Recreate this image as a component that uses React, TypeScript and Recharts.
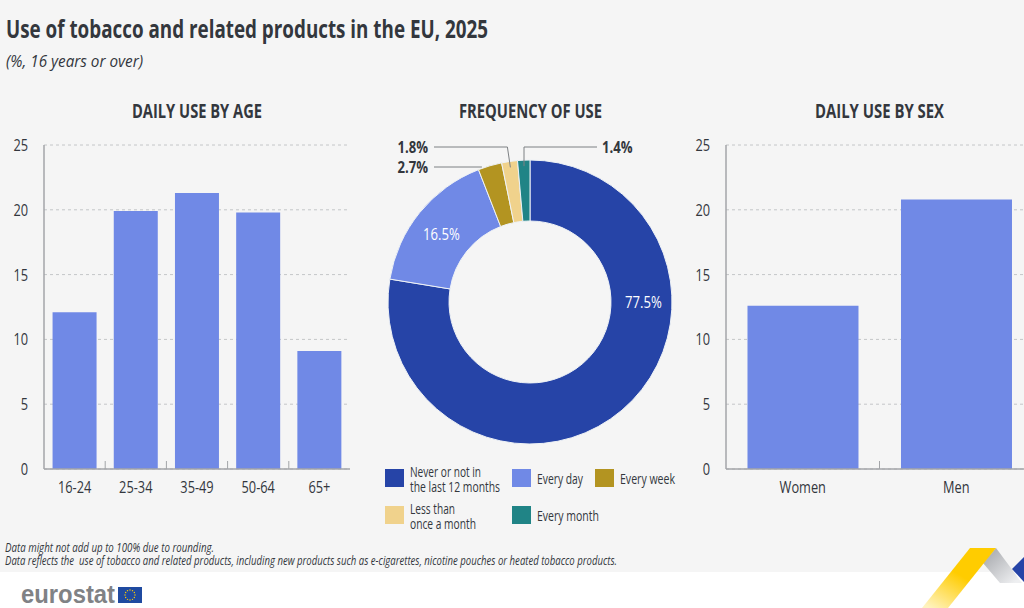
import React from "react";
import { BarChart, Bar, XAxis, YAxis, CartesianGrid, PieChart, Pie, Cell } from "recharts";

const ageCategories = ["16-24", "25-34", "35-49", "50-64", "65+"];
const ageValues = [12.1, 19.9, 21.3, 19.8, 9.1];
const sexCategories = ["Women", "Men"];
const sexValues = [12.6, 20.8];
const yTicks = [0, 5, 10, 15, 20, 25];
const freqNames = ["Never or not in the last 12 months", "Every day", "Every week", "Less than once a month", "Every month"];
const freqValues = [77.5, 16.5, 2.7, 1.8, 1.4];
const freqLabels = ["77.5%", "16.5%", "2.7%", "1.8%", "1.4%"];
const freqColors = ["#2644A7", "#7089E6", "#B39421", "#F0D28C", "#208486"];
const footnotes = [
  "Data might not add up to 100% due to rounding.",
  "Data reflects the  use of tobacco and related products, including new products such as e-cigarettes, nicotine pouches or heated tobacco products.",
];

const ageData = ageCategories.map((c, i) => ({ c, v: ageValues[i] }));
const sexData = sexCategories.map((c, i) => ({ c, v: sexValues[i] }));
const freqData = freqNames.map((name, i) => ({ name, value: freqValues[i] }));

const FONT = "'Open Sans', sans-serif";
const INK = "#33373d";
const BAR = "#7089E6";
const AXIS = "#a3a5a8";
const GRID = "#c4c6c8";
const PIE_CX = 200;

type TP = { x: number; y: number; w?: number; size: number; bold?: boolean; italic?: boolean; fill?: string; children: string };
const T = ({ x, y, w, size, bold, italic, fill = INK, children }: TP) => (
  <text
    x={x}
    y={y}
    textLength={w}
    lengthAdjust={w ? "spacingAndGlyphs" : undefined}
    fontFamily={FONT}
    fontSize={size}
    fontWeight={bold ? 700 : 400}
    fontStyle={italic ? "italic" : "normal"}
    fill={fill}
    xmlSpace="preserve"
  >
    {children}
  </text>
);

const AxisTick = (props: any) => {
  const { x, y, payload } = props;
  return (
    <text
      transform={`translate(${x - 8},${y + 6}) scale(0.8,1)`}
      textAnchor="end"
      fontFamily={FONT}
      fontSize={16}
      fill={INK}
    >
      {payload.value}
    </text>
  );
};

const XTick = (props: any) => {
  const { x, y, payload, band, count, index } = props;
  const axisY = y - 8;
  return (
    <g>
      {index < count - 1 && (
        <line x1={x + band / 2} x2={x + band / 2} y1={axisY} y2={axisY - 8} stroke={AXIS} strokeWidth={1} />
      )}
      <text
        transform={`translate(${x},${axisY + 24}) scale(0.8,1)`}
        textAnchor="middle"
        fontFamily={FONT}
        fontSize={16}
        fill={INK}
      >
        {payload.value}
      </text>
    </g>
  );
};

const RAD = Math.PI / 180;
const leaderText: Record<number, { dx: number; ty: number; bend: boolean; side: number }> = {
  2: { dx: -102, ty: 167, bend: false, side: -1 },
  3: { dx: -102, ty: 147, bend: true, side: -1 },
  4: { dx: 72, ty: 147, bend: true, side: 1 },
};

const PieLabel = (props: any) => {
  const { cx, cy, midAngle, innerRadius, outerRadius, index } = props;
  const mid = (innerRadius + outerRadius) / 2;
  if (index < 2) {
    const a = index === 0 ? 0 : midAngle;
    const x = cx + mid * Math.cos(a * RAD) + (index === 0 ? 2 : -2);
    const y = cy - mid * Math.sin(a * RAD);
    return (
      <text
        transform={`translate(${x},${y + (index === 0 ? 6 : 8)}) scale(0.82,1)`}
        textAnchor="middle"
        fontFamily={FONT}
        fontSize={16}
        fill="#ffffff"
      >
        {freqLabels[index]}
      </text>
    );
  }
  const l = leaderText[index];
  const tx = cx + l.dx;
  const r = index === 2 ? outerRadius : outerRadius - 6;
  const px = cx + r * Math.cos(midAngle * RAD);
  const py = cy - r * Math.sin(midAngle * RAD);
  const startX = l.side < 0 ? tx + 6 : tx - 5;
  const pts = l.bend
    ? `${startX},${l.ty} ${px - (index === 3 ? 3 : 0)},${l.ty} ${px},${py}`
    : `${startX},${l.ty} ${px - 8},${l.ty}`;
  return (
    <g>
      <polyline points={pts} fill="none" stroke="#7d8083" strokeWidth={1} />
      <text
        transform={`translate(${tx},${l.ty + 6}) scale(0.82,1)`}
        textAnchor={l.side < 0 ? "end" : "start"}
        fontFamily={FONT}
        fontSize={16}
        fontWeight={700}
        fill={INK}
      >
        {freqLabels[index]}
      </text>
    </g>
  );
};

const legendItems = [
  { i: 0, x: 385, y: 469, lines: ["Never or not in", "the last 12 months"], widths: [71, 90] },
  { i: 1, x: 512, y: 469, lines: ["Every day"], widths: [46] },
  { i: 2, x: 595, y: 469, lines: ["Every week"], widths: [55] },
  { i: 3, x: 385, y: 506, lines: ["Less than", "once a month"], widths: [45, 66] },
  { i: 4, x: 512, y: 506, lines: ["Every month"], widths: [62] },
];

const stars = Array.from({ length: 12 }, (_, i) => i * 30);

const BarPanel = ({ data, left, width, gap }: { data: any[]; left: number; width: number; gap: string }) => {
  const band = (width - 44) / data.length;
  return (
    <div style={{ position: "absolute", left, top: 0 }}>
      <BarChart
        width={width}
        height={608}
        data={data}
        margin={{ top: 145, bottom: 109, left: 0, right: 0 }}
        barCategoryGap={gap}
      >
        <CartesianGrid vertical={false} stroke={GRID} strokeDasharray="3 3" />
        <XAxis
          dataKey="c"
          height={30}
          stroke={AXIS}
          strokeWidth={1.5}
          tickLine={false}
          tick={<XTick band={band} count={data.length} />}
          interval={0}
        />
        <YAxis
          width={44}
          domain={[0, 25]}
          ticks={yTicks}
          stroke={AXIS}
          strokeWidth={1.5}
          tickLine={false}
          tick={<AxisTick />}
          interval={0}
        />
        <Bar dataKey="v" fill={BAR} isAnimationActive={false} />
      </BarChart>
    </div>
  );
};

export default function App() {
  return (
    <div style={{ position: "absolute", left: 0, top: 0, width: 1024, height: 608, overflow: "hidden", background: "#ffffff" }}>
      <div style={{ position: "absolute", left: 0, top: 0, width: 1024, height: 572, background: "#f5f5f5" }} />

      <svg width={1024} height={608} style={{ position: "absolute", left: 0, top: 0 }}>
        <defs>
          <linearGradient id="yg" x1="0.85" y1="0" x2="0.1" y2="1">
            <stop offset="0.45" stopColor="#FFCC00" />
            <stop offset="1" stopColor="#FFF3C0" />
          </linearGradient>
          <linearGradient id="gg" x1="0.1" y1="0.1" x2="0.9" y2="0.9">
            <stop offset="0" stopColor="#A9ABAF" />
            <stop offset="1" stopColor="#EEEFF1" />
          </linearGradient>
        </defs>
        <polygon points="996,548 1022,583 1000,583 983,563" fill="url(#gg)" />
        <polygon points="970,548 996,548 948,608 922,608" fill="url(#yg)" />
        <polygon points="1024,557 1012,569 1024,582" fill="#2644A7" />
        <T x={6} y={38} w={482} size={25} bold>Use of tobacco and related products in the EU, 2025</T>
        <T x={6} y={67} w={137} size={16} italic>(%, 16 years or over)</T>
        <T x={132} y={118} w={130} size={20} bold>DAILY USE BY AGE</T>
        <T x={459} y={118} w={143} size={20} bold>FREQUENCY OF USE</T>
        <T x={815} y={118} w={129} size={20} bold>DAILY USE BY SEX</T>
        {legendItems.map((it) => (
          <g key={it.i}>
            <rect x={it.x} y={it.y} width={19} height={18} fill={freqColors[it.i]} />
            <text fontFamily={FONT} fontSize={15} fill={INK}>
              {it.lines.map((ln, k) => (
                <tspan
                  key={k}
                  x={it.x + 25}
                  y={it.lines.length === 1 ? it.y + 15 : it.y + 8 + k * 15}
                  textLength={it.widths[k]}
                  lengthAdjust="spacingAndGlyphs"
                >
                  {ln}
                </tspan>
              ))}
            </text>
          </g>
        ))}
        <T x={5} y={552} w={209} size={12} italic>{footnotes[0]}</T>
        <T x={5} y={565} w={612} size={12} italic>{footnotes[1]}</T>
        <text x={21} y={603} textLength={94} lengthAdjust="spacingAndGlyphs" fontFamily="'Liberation Sans', sans-serif" fontWeight={700} fontSize={25} fill="#808285">eurostat</text>
        <rect x={118} y={587} width={24} height={16} fill="#1F4AA0" />
        {stars.map((a) => (
          <circle key={a} cx={130 + 5 * Math.cos(a * RAD)} cy={595 + 5 * Math.sin(a * RAD)} r={0.7} fill="#FFCC00" />
        ))}
      </svg>

      <BarPanel data={ageData} left={0} width={350} gap="14%" />
      <BarPanel data={sexData} left={682} width={351} gap="14%" />

      <div style={{ position: "absolute", left: 330, top: 0 }}>
        <PieChart width={400} height={604} margin={{ top: 0, bottom: 0, left: 0, right: 0 }}>
          <Pie
            data={freqData}
            dataKey="value"
            nameKey="name"
            cx={PIE_CX}
            cy={302}
            innerRadius={81}
            outerRadius={142}
            startAngle={90}
            endAngle={-270}
            stroke="#eef2f6"
            strokeWidth={1}
            isAnimationActive={false}
            label={<PieLabel />}
            labelLine={false}
          >
            {freqColors.map((c) => (
              <Cell key={c} fill={c} />
            ))}
          </Pie>
        </PieChart>
      </div>
    </div>
  );
}
